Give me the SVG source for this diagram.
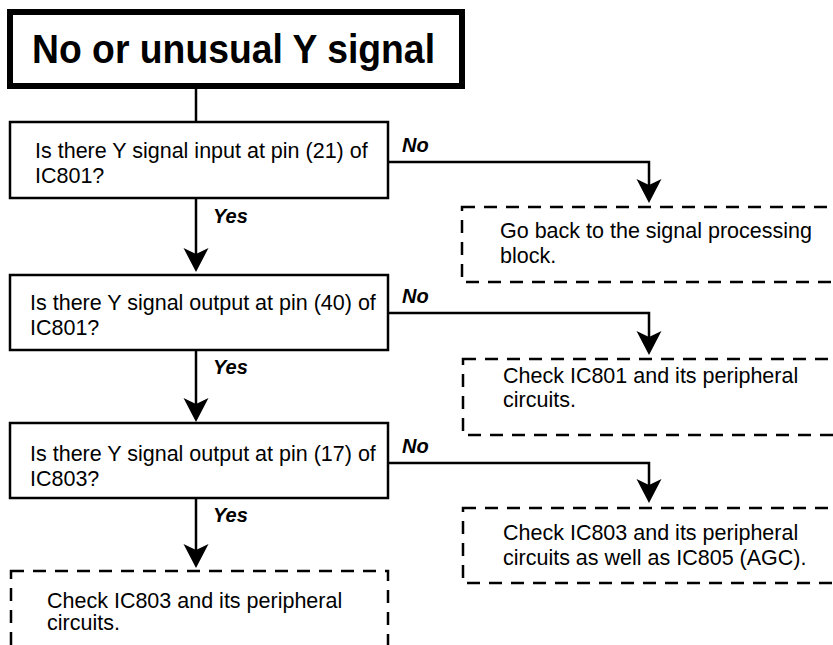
<svg xmlns="http://www.w3.org/2000/svg" width="833" height="645" viewBox="0 0 833 645">
  <style>
    .title { fill: #fff; stroke: #000; stroke-width: 6; }
    .box { fill: #fff; stroke: #000; stroke-width: 2.5; }
    .dash { fill: #fff; stroke: #000; stroke-width: 2.5; stroke-dasharray: 13 9; }
    .wire { fill: none; stroke: #000; stroke-width: 2.5; }
    .arrow { fill: none; stroke: #000; stroke-width: 2.5; marker-end: url(#head); }
    text { font-family: "Liberation Sans", Arial, sans-serif; fill: #000; }
    .t { font-size: 21.5px; }
    .h { font-size: 40px; font-weight: bold; }
    .lbl { font-size: 20px; font-weight: bold; font-style: italic; }
  </style>
  <defs>
    <marker id="head" markerUnits="userSpaceOnUse" markerWidth="30" markerHeight="30" refX="0" refY="0" viewBox="-20 -15 30 30" orient="auto" overflow="visible">
      <path d="M6,0 L-18,-12.5 L-12,0 L-18,12.5 Z" fill="#000"/>
    </marker>
  </defs>
  <rect width="833" height="645" fill="#fff"/>

  <!-- connectors -->
  <g id="connectors">
    <line class="wire" x1="196" y1="89" x2="196" y2="122"/>
    <line class="arrow" x1="196" y1="198" x2="196" y2="266"/>
    <line class="arrow" x1="196" y1="350" x2="196" y2="416"/>
    <line class="arrow" x1="196" y1="498" x2="196" y2="562"/>
    <path class="arrow" d="M388,162 H649 V197"/>
    <path class="arrow" d="M388,313 H649 V349"/>
    <path class="arrow" d="M388,463 H649 V497"/>
    <text class="lbl" x="213" y="223">Yes</text>
    <text class="lbl" x="213" y="374">Yes</text>
    <text class="lbl" x="213" y="522">Yes</text>
    <text class="lbl" x="402" y="152">No</text>
    <text class="lbl" x="402" y="303">No</text>
    <text class="lbl" x="402" y="453">No</text>
  </g>

  <g id="start">
    <rect class="title" x="10" y="12" width="452" height="74"/>
    <text class="h" x="32" y="63" textLength="403" lengthAdjust="spacingAndGlyphs">No or unusual Y signal</text>
  </g>

  <g id="q1">
    <rect class="box" x="10" y="122" width="378" height="76"/>
    <text class="t" x="35" y="158">Is there Y signal input at pin (21) of</text>
    <text class="t" x="35" y="183">IC801?</text>
  </g>

  <g id="q2">
    <rect class="box" x="10" y="275" width="378" height="75"/>
    <text class="t" x="30" y="310">Is there Y signal output at pin (40) of</text>
    <text class="t" x="30" y="335">IC801?</text>
  </g>

  <g id="q3">
    <rect class="box" x="10" y="423" width="378" height="75"/>
    <text class="t" x="30" y="461">Is there Y signal output at pin (17) of</text>
    <text class="t" x="30" y="486">IC803?</text>
  </g>

  <g id="a1">
    <rect class="dash" x="462" y="207" width="400" height="75"/>
    <text class="t" x="500" y="238">Go back to the signal processing</text>
    <text class="t" x="500" y="263">block.</text>
  </g>

  <g id="a2">
    <rect class="dash" x="463" y="359" width="400" height="76"/>
    <text class="t" x="503" y="383">Check IC801 and its peripheral</text>
    <text class="t" x="503" y="407">circuits.</text>
  </g>

  <g id="a3">
    <rect class="dash" x="463" y="508" width="400" height="75"/>
    <text class="t" x="503" y="540">Check IC803 and its peripheral</text>
    <text class="t" x="503" y="565">circuits as well as IC805 (AGC).</text>
  </g>

  <g id="a4">
    <rect class="dash" x="11" y="571" width="377" height="100"/>
    <text class="t" x="47" y="608">Check IC803 and its peripheral</text>
    <text class="t" x="47" y="630">circuits.</text>
  </g>
</svg>
